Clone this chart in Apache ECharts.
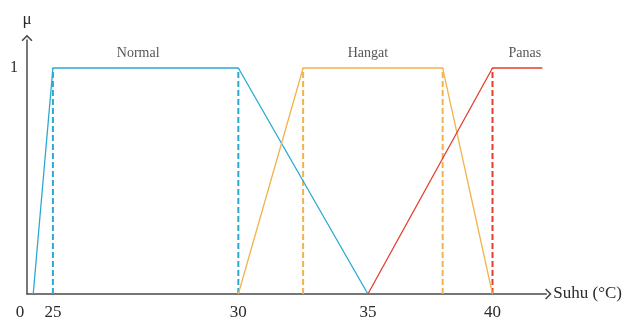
<!DOCTYPE html>
<html><head><meta charset="utf-8">
<script src="https://cdn.jsdelivr.net/npm/echarts@6/dist/echarts.min.js"></script>
<style>html,body{margin:0;padding:0;background:#fff}#c{width:625px;height:323px}</style>
</head><body><div id="c"></div>
<script>
// ---- data (temperature in °C, membership μ) ----
const TICK_LABELS = [0, 25, 30, 35, 40];
const normalX = [6, 25, 30, 35];
const normalY = [0, 1, 1, 0];
const hangatX = [30, 32.5, 38, 40];
const hangatY = [0, 1, 1, 0];
const panasX = [35, 40, 42];
const panasY = [0, 1, 1];
const dashedBlue = [25, 30];
const dashedOrange = [32.5, 38];
const dashedRed = [40];
const setNames = ['Normal', 'Hangat', 'Panas'];
const setLabelX = [27.3, 35, 41.3];
const setLabelY = 1.065;

// drawing scale of the original (non-uniform) temperature axis
const WARP_REAL = [0, 25, 30, 35, 40, 45];
const WARP_AXIS = [0, 26, 212, 342, 467, 592];
function warp(v) {
  for (let i = 1; i < WARP_REAL.length; i++) {
    if (v <= WARP_REAL[i] || i === WARP_REAL.length - 1) {
      const a = WARP_REAL[i - 1], b = WARP_REAL[i];
      return WARP_AXIS[i - 1] + (v - a) / (b - a) * (WARP_AXIS[i] - WARP_AXIS[i - 1]);
    }
  }
}
const tickPos = TICK_LABELS.map(warp);

const BLUE = '#2ba9d3', ORANGE = '#f2b24e', RED = '#e2402f', AXIS = '#4a4a4a';
const TXT = '#2a2a2a';
const FONT = '"Liberation Serif", "Times New Roman", serif';
const CHEVRON = 'path://M0,0 L10,10 L8,12 L0,4 L-8,12 L-10,10 Z';

function mf(xs, ys, color) {
  return {
    type: 'line', symbol: 'none', silent: true,
    data: xs.map((x, i) => [warp(x), ys[i]]),
    lineStyle: { color: color, width: 1.3 }, z: 3
  };
}
function dashes(vals, color) {
  return vals.map(v => ({
    type: 'line', symbol: 'none', silent: true,
    data: [[warp(v), 0], [warp(v), 1]],
    lineStyle: { color: color, width: 2, type: [6, 3] }, z: 2
  }));
}

const chart = echarts.init(document.getElementById('c'), null, { renderer: 'canvas' });
chart.setOption({
  animation: false,
  backgroundColor: '#fff',
  grid: { left: 27, right: 77, top: 40, bottom: 29, containLabel: false },
  xAxis: {
    type: 'value', min: 0, max: 521,
    name: 'Suhu (°C)', nameLocation: 'end', nameGap: 7,
    nameTextStyle: { fontFamily: FONT, fontSize: 17, color: TXT, verticalAlign: 'middle', align: 'left', padding: [3, 0, 0, 0] },
    axisLine: { show: true, lineStyle: { color: AXIS, width: 1.5 }, symbol: ['none', CHEVRON], symbolSize: [11, 8], symbolOffset: [0, 2] },
    axisTick: { show: false },
    splitLine: { show: false },
    axisLabel: {
      customValues: tickPos, margin: 10, fontFamily: FONT, fontSize: 17, color: TXT,
      formatter: function (v) {
        const i = tickPos.findIndex(p => Math.abs(p - v) < 0.01);
        if (i < 0) return '';
        return i === 0 ? '{z|' + TICK_LABELS[i] + '}' : String(TICK_LABELS[i]);
      },
      rich: { z: { fontFamily: FONT, fontSize: 17, color: TXT, padding: [0, 14, 0, 0] } }
    }
  },
  yAxis: {
    type: 'value', min: 0, max: 1.124, interval: 1,
    name: 'μ', nameLocation: 'end', nameGap: 12,
    nameTextStyle: { fontFamily: FONT, fontSize: 17, color: TXT, align: 'center' },
    axisLine: { show: true, lineStyle: { color: AXIS, width: 1.5 }, symbol: ['none', CHEVRON], symbolSize: [11, 8], symbolOffset: [0, 2] },
    axisTick: { show: false },
    splitLine: { show: false },
    axisLabel: {
      margin: 9, fontFamily: FONT, fontSize: 16, color: TXT,
      formatter: v => (v === 1 ? '1' : '')
    }
  },
  series: [
    ...dashes(dashedBlue, BLUE),
    ...dashes(dashedOrange, ORANGE),
    ...dashes(dashedRed, RED),
    mf(normalX, normalY, BLUE),
    mf(hangatX, hangatY, ORANGE),
    mf(panasX, panasY, RED),
    {
      type: 'scatter', symbolSize: 0, silent: true,
      data: setNames.map((n, i) => ({ value: [warp(setLabelX[i]), setLabelY], name: n })),
      label: { show: true, position: 'inside', formatter: p => p.name, fontFamily: FONT, fontSize: 14, color: TXT }
    }
  ]
});
</script></body></html>
